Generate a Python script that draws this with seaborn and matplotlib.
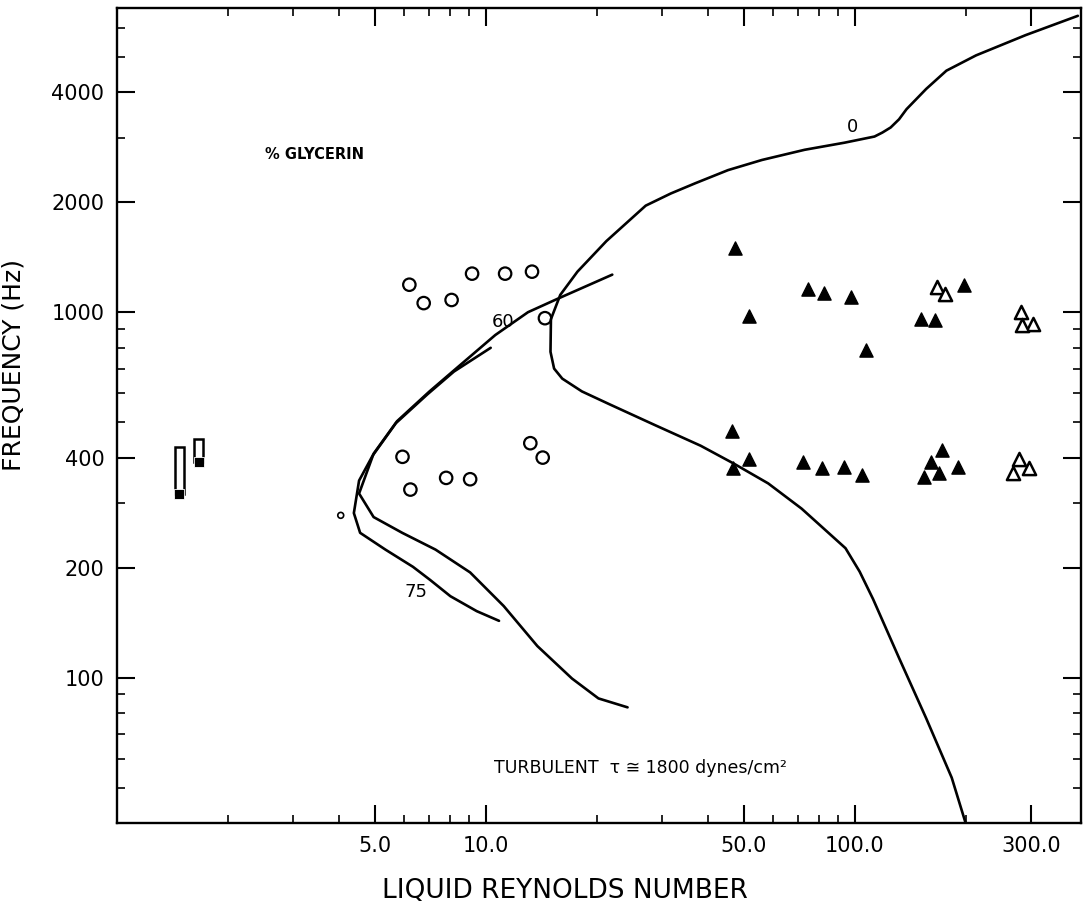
import numpy as np
import pandas as pd
import matplotlib
matplotlib.use("Agg")
import matplotlib.pyplot as plt
import seaborn as sns
from matplotlib.patches import Rectangle
from matplotlib.ticker import FixedLocator, NullFormatter

# ---------------- data ----------------
# 0 % glycerin (water) boundary curve
re_water = [402, 290, 213, 177, 156, 138, 131.7, 125, 118.7, 113, 93.7, 73.1, 56.0, 45.3,
            36.9, 31.7, 27.1, 21.2, 17.7, 15.9, 15.0, 14.96, 15.3, 16.1, 18.2, 21.6, 28.7,
            38.2, 47.0, 58.2, 71.7, 94.3, 103, 112, 132, 156, 183, 200]
f_water = [6473, 5730, 5045, 4581, 4083, 3594, 3372, 3203, 3102, 3025, 2910, 2783, 2610,
           2448, 2253, 2113, 1957, 1565, 1291, 1115, 957, 779, 701, 658, 607, 560, 491,
           431, 385, 340, 290, 226, 195, 164, 112.6, 77.4, 53.2, 39.7]

# 60 % glycerin boundary curve
re_60 = [22.0, 15.6, 13.0, 10.6, 8.30, 7.03, 5.74, 4.96, 4.53, 4.96, 5.93, 7.30, 9.06,
         11.17, 13.78, 17.11, 20.18, 24.2]
f_60 = [1267, 1087, 1000, 866, 701, 607, 503, 410, 319, 275, 249, 224, 194, 157, 122,
        99.4, 87.7, 82.9]

# 75 % glycerin boundary curve
re_75 = [10.30, 8.19, 6.94, 5.70, 4.93, 4.53, 4.385, 4.56, 5.34, 6.34, 7.06, 8.01, 9.44, 10.85]
f_75 = [799, 688, 596, 497, 405, 346, 282, 249, 224, 201, 185, 167, 152, 143]

# open circles
circ_re = [6.20, 6.78, 8.07, 9.17, 11.27, 13.33, 14.45, 5.94, 6.24, 7.80, 9.06, 13.19, 14.25]
circ_f = [1189, 1059, 1080, 1275, 1275, 1291, 963, 402, 327, 352, 349, 438, 400]
small_re = [4.04]
small_f = [278]

# filled triangles
tri_re = [74.8, 82.7, 97.3, 197, 51.6, 151, 165, 107.5, 46.5, 51.6, 46.7, 72.2, 81.4,
          93.3, 104.5, 190, 169, 154, 172, 160.5, 47.2]
tri_f = [1158, 1129, 1101, 1189, 975, 957, 954, 789, 473, 397, 375, 388, 375, 378, 359,
         378, 362, 355, 420, 388, 1496]

# open triangles
otri_re = [167, 175, 282, 304, 284, 278, 296, 268]
otri_f = [1173, 1122, 1000, 928, 922, 397, 375, 364]

# rectangles (range bars)
rect_re = [1.477, 1.664]
rect_lo = [319, 390]
rect_hi = [428, 450]

x_major = [5, 10, 50, 100, 300]
x_major_labels = ["5.0", "10.0", "50.0", "100.0", "300.0"]
x_minor = [2, 3, 4, 6, 7, 8, 9, 20, 30, 40, 60, 70, 80, 90, 200]
y_major = [100, 200, 400, 1000, 2000, 4000]
y_major_labels = ["100", "200", "400", "1000", "2000", "4000"]
y_minor = [50, 60, 70, 80, 90, 300, 500, 600, 700, 800, 900, 3000, 5000, 6000]

# ---------------- plot ----------------
sns.set_theme(style="ticks")
plt.rcParams['font.family'] = ['DejaVu Sans']

fig = plt.figure(figsize=(10.91, 9.05), dpi=100)
ax = fig.add_axes([117 / 1091, 1 - 823 / 905, (1081 - 117) / 1091, (823 - 8) / 905])
ax.set_xscale("log")
ax.set_yscale("log")

for xs, ys in [(re_water, f_water), (re_60, f_60), (re_75, f_75)]:
    df = pd.DataFrame({"re": xs, "f": ys})
    sns.lineplot(data=df, x="re", y="f", sort=False, estimator=None,
                 color="black", lw=1.9, ax=ax)
for ln in ax.get_lines():
    ln.set_solid_joinstyle("round")
    ln.set_solid_capstyle("round")

sns.scatterplot(x=circ_re, y=circ_f, marker="o", s=80, facecolors="none",
                edgecolors="black", linewidth=1.6, ax=ax)
sns.scatterplot(x=small_re, y=small_f, marker="o", s=18, facecolors="none",
                edgecolors="black", linewidth=1.2, ax=ax)
sns.scatterplot(x=tri_re, y=tri_f, marker="^", s=90, color="black",
                edgecolor="black", linewidth=1.0, ax=ax)
sns.scatterplot(x=otri_re, y=otri_f, marker="^", s=90, facecolors="white",
                edgecolors="black", linewidth=1.8, ax=ax)

for xr, lo, hi in zip(rect_re, rect_lo, rect_hi):
    ax.add_patch(Rectangle((xr / 1.03, lo), xr * 1.03 - xr / 1.03, hi - lo,
                           fill=False, ec="black", lw=1.8))
sns.scatterplot(x=rect_re, y=rect_lo, marker="s", s=55, color="black", ax=ax)

ax.set_xlim(1, 410)
ax.set_ylim(40, 6800)

ax.xaxis.set_major_locator(FixedLocator(x_major))
ax.xaxis.set_minor_locator(FixedLocator(x_minor))
ax.set_xticklabels(x_major_labels)
ax.xaxis.set_minor_formatter(NullFormatter())
ax.yaxis.set_major_locator(FixedLocator(y_major))
ax.yaxis.set_minor_locator(FixedLocator(y_minor))
ax.set_yticklabels(y_major_labels)
ax.yaxis.set_minor_formatter(NullFormatter())

ax.tick_params(which="both", direction="in", top=True, right=True,
               color="black", labelcolor="black", labelsize=15)
ax.tick_params(which="major", length=13, width=1.5, pad=9)
ax.tick_params(which="minor", length=6, width=1.2)
for sp in ax.spines.values():
    sp.set_color("black")
    sp.set_linewidth(1.7)

ax.set_xlabel("LIQUID REYNOLDS NUMBER", fontsize=19, color="black")
ax.set_ylabel("FREQUENCY (Hz)", fontsize=18, color="black")
ax.xaxis.set_label_coords((565 - 117) / 964, (823 - 878) / 815)
ax.yaxis.set_label_coords((26 - 117) / 964, (823 - 365) / 815)

ax.text(2.52, 2696, "% GLYCERIN", fontsize=10.5, fontweight="bold",
        ha="left", va="center", color="black")
ax.text(98.3, 3206, "0", fontsize=13, ha="center", va="center", color="black")
ax.text(11.1, 940, "60", fontsize=13, ha="center", va="center", color="black")
ax.text(6.48, 172, "75", fontsize=13, ha="center", va="center", color="black")
ax.text(10.5, 56.6, "TURBULENT  \u03c4 \u2245 1800 dynes/cm\u00b2", fontsize=12.5,
        ha="left", va="center", color="black")

fig.savefig("out.png", dpi=100, facecolor="white")
